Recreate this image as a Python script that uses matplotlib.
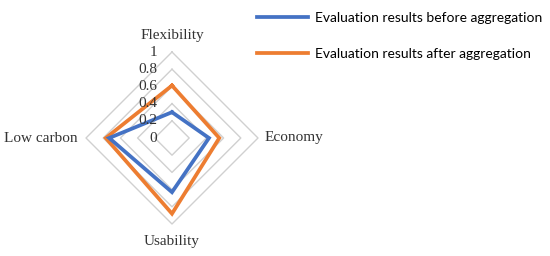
import numpy as np
import matplotlib
matplotlib.use("Agg")
import matplotlib.pyplot as plt

categories = ["Flexibility", "Economy", "Usability", "Low carbon"]
before = [0.30, 0.43, 0.63, 0.73]
after = [0.61, 0.55, 0.88, 0.77]
levels = [0, 0.2, 0.4, 0.6, 0.8, 1.0]
level_labels = ["0", "0.2", "0.4", "0.6", "0.8", "1"]
series_names = ["Evaluation results before aggregation", "Evaluation results after aggregation"]

angles = np.deg2rad([90, 0, -90, 180])

fig = plt.figure(figsize=(5.5, 2.56), dpi=100)
ax = fig.add_axes([86/550, 32/256, 172/550, 172/256])
ax.set_xlim(-1, 1)
ax.set_ylim(-1, 1)
ax.axis("off")

def xy(vals):
    v = np.array(list(vals) + [vals[0]])
    a = np.concatenate([angles, angles[:1]])
    return v*np.cos(a), v*np.sin(a)

grid_color = "#d0d0d0"
for lv in levels[1:]:
    gx, gy = xy([lv]*4)
    ax.plot(gx, gy, color=grid_color, lw=1.0, clip_on=False, zorder=1)

c_before = "#4472c4"
c_after = "#ed7d31"
bx, by = xy(before)
axx, ayy = xy(after)
l1, = ax.plot(bx, by, color=c_before, lw=2.7, clip_on=False, zorder=3, solid_joinstyle="miter")
l2, = ax.plot(axx, ayy, color=c_after, lw=2.7, clip_on=False, zorder=2, solid_joinstyle="miter")

serif = ["Liberation Serif", "DejaVu Serif"]
tc = "#333333"
for lv, lab in zip(levels, level_labels):
    ax.text(-0.17, lv, lab, ha="right", va="center", fontsize=11, family=serif, color=tc)

ax.text(0, 1.19, categories[0], ha="center", va="center", fontsize=11, family=serif, color=tc)
ax.text(1.08, 0, categories[1], ha="left", va="center", fontsize=11, family=serif, color=tc)
ax.text(0, -1.20, categories[2], ha="center", va="center", fontsize=11, family=serif, color=tc)
ax.text(-1.10, 0, categories[3], ha="right", va="center", fontsize=11, family=serif, color=tc)

leg = fig.legend([l1, l2], series_names, loc="upper left", bbox_to_anchor=(257/550, 1 - 12/256),
                 frameon=False, prop={"family": ["Lato", "DejaVu Sans"], "size": 10},
                 handlelength=3.7, handletextpad=0.5, labelspacing=1.7, borderaxespad=0.0,
                 borderpad=0.0)
for t in leg.get_texts():
    t.set_color("#000000")

fig.savefig("out.png", dpi=100)
